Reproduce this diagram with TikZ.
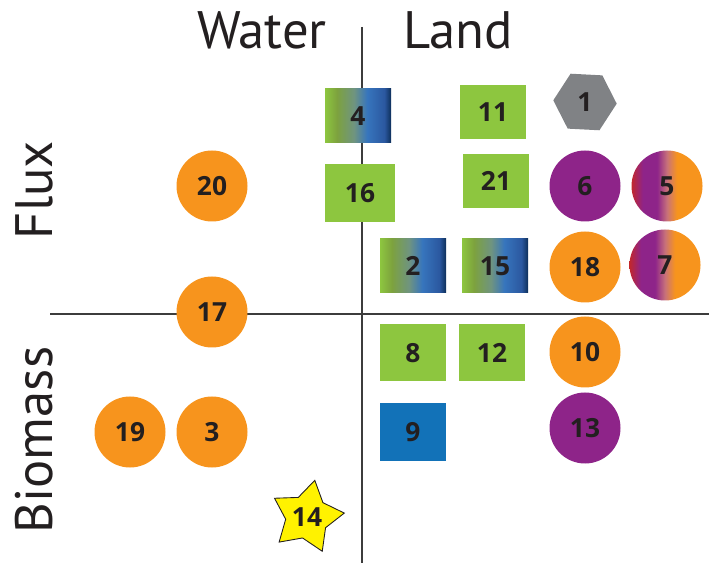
\documentclass[tikz,border=0pt]{standalone}
\usepackage{fontspec}
\setmainfont{PT Sans}
\newfontfamily\numfont{Open Sans}
\usetikzlibrary{shapes}
\definecolor{lgreen}{HTML}{8DC63F}
\definecolor{ogreen}{HTML}{7DA23E}
\definecolor{ggrey}{HTML}{6F9480}
\definecolor{mblue}{HTML}{3775BD}
\definecolor{dblue}{HTML}{2B58A0}
\definecolor{navy}{HTML}{0D2F5A}
\definecolor{sqblue}{HTML}{1272B8}
\definecolor{orng}{HTML}{F7941D}
\definecolor{purp}{HTML}{8E2489}
\definecolor{crim}{HTML}{C1272D}
\definecolor{pinkish}{HTML}{C8727A}
\definecolor{hexgrey}{HTML}{808285}
\definecolor{txt}{HTML}{231F20}
\definecolor{axisgrey}{HTML}{3C3C3C}
\definecolor{stary}{HTML}{FFF200}
\pgfdeclarehorizontalshading{landwater}{100bp}{color(0bp)=(lgreen); color(25bp)=(lgreen); color(34bp)=(ogreen); color(47bp)=(ggrey); color(57bp)=(mblue); color(70bp)=(dblue); color(75bp)=(navy); color(100bp)=(navy)}
\pgfdeclarehorizontalshading{mixed}{100bp}{color(0bp)=(crim); color(25bp)=(crim); color(33bp)=(purp); color(43bp)=(purp); color(50bp)=(pinkish); color(57bp)=(orng); color(75bp)=(orng); color(100bp)=(orng)}
\tikzstyle{num}=[text=txt,font=\numfont\fontsize{15}{15}\selectfont\bfseries,inner sep=0pt]
\tikzstyle{sq}=[num,rectangle,minimum width=1.32cm,minimum height=1.08cm]
\tikzstyle{gsq}=[sq,fill=lgreen]
\tikzstyle{mixsq}=[sq,shading=landwater]
\tikzstyle{bsq}=[sq,fill=sqblue]
\tikzstyle{dot}=[num,circle,minimum size=1.42cm]
\tikzstyle{odot}=[dot,fill=orng]
\tikzstyle{pdot}=[dot,fill=purp]
\tikzstyle{mixdot}=[dot,shading=mixed]
\tikzstyle{axis}=[line width=1.1pt,draw=axisgrey]
\tikzstyle{head}=[text=txt,font=\fontsize{30}{30}\selectfont]

\begin{document}
\begin{tikzpicture}
\useasboundingbox (0,0) rectangle (14.18,11.26);
\coordinate (xl) at (1.0,4.98);
\coordinate (xr) at (14.18,4.98);
\coordinate (yt) at (7.24,10.72);
\coordinate (yb) at (7.24,0);
\draw[axis] (xl)--(xr);
\draw[axis] (yt)--(yb);
\node[head] (water) at (5.24,10.66) {Water};
\node[head] (land) at (9.16,10.66) {Land};
\node[head,rotate=90] (flux) at (0.68,7.46) {Flux};
\node[head,rotate=90] (biomass) at (0.68,2.46) {Biomass};
% squares
\node[mixsq] (n4) at (7.16,8.94) {4};
\node[gsq] (n11) at (9.86,9.02) {11};
\node[gsq,minimum width=1.4cm,minimum height=1.16cm] (n16) at (7.20,7.40) {16};
\node[gsq] (n21) at (9.92,7.64) {21};
\node[mixsq] (n2) at (8.26,5.94) {2};
\node[mixsq] (n15) at (9.90,5.94) {15};
\node[gsq,minimum height=1.14cm] (n8) at (8.26,4.20) {8};
\node[gsq,minimum height=1.14cm] (n12) at (9.84,4.20) {12};
\node[bsq,minimum height=1.14cm] (n9) at (8.26,2.62) {9};
% circles
\node[regular polygon,regular polygon sides=6,shape border rotate=-3,minimum size=1.27cm,fill=hexgrey,num] (n1) at (11.70,9.22) {1};
\node[pdot] (n6) at (11.70,7.54) {6};
\node[mixdot] (n5) at (13.34,7.54) {5};
\node[odot] (n18) at (11.70,5.92) {18};
\node[mixdot] (n7) at (13.30,5.96) {7};
\node[odot] (n20) at (4.24,7.54) {20};
\node[odot] (n17) at (4.24,5.02) {17};
\node[odot] (n10) at (11.70,4.22) {10};
\node[pdot] (n13) at (11.70,2.70) {13};
\node[odot] (n19) at (2.60,2.62) {19};
\node[odot] (n3) at (4.24,2.62) {3};
\node[star,star points=5,star point ratio=1.75,shape border rotate=-12,minimum size=1.5cm,inner sep=0pt,fill=stary,draw=txt,line width=0.5pt,label={[num]center:14}] (n14) at (6.14,0.92) {};
\end{tikzpicture}
\end{document}
